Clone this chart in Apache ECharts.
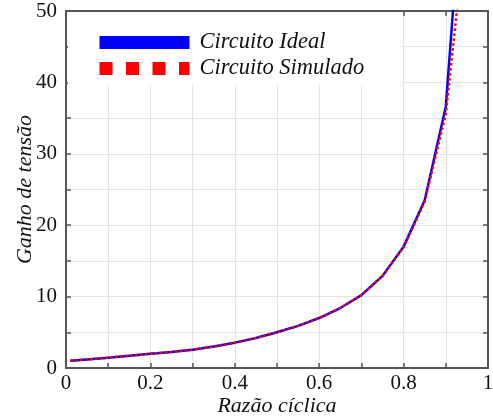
<!DOCTYPE html>
<html>
<head>
<meta charset="utf-8">
<script src="https://cdn.jsdelivr.net/npm/echarts@6/dist/echarts.min.js"></script>
<style>
  html, body {margin: 0; padding: 0; background: #fff;}
  #chart {width: 493px; height: 420px;}
</style>
</head>
<body>
<div id="chart"></div>
<script>
// razão cíclica (D) e ganho
const razaoCiclica = [0.01, 0.05, 0.1, 0.15, 0.2, 0.25, 0.3, 0.35, 0.4, 0.45, 0.5, 0.55, 0.6, 0.65, 0.7, 0.75, 0.8, 0.85, 0.9, 0.95];
const ganhoIdeal = [1.0, 1.2, 1.45, 1.7, 2.0, 2.25, 2.55, 3.0, 3.55, 4.2, 5.0, 5.9, 7.0, 8.4, 10.2, 12.9, 17.0, 23.5, 36.6, 76];
const ganhoSimulado = [1.0, 1.2, 1.45, 1.7, 2.0, 2.25, 2.55, 3.0, 3.55, 4.2, 5.0, 5.9, 7.0, 8.4, 10.2, 12.9, 16.9, 23.3, 35.6, 63];
const nomes = ['Circuito Ideal', 'Circuito Simulado'];

const fonte = "'Liberation Serif', 'Times New Roman', serif";
const corEixo = '#555';
const corGrade = '#e3e3e3';
const corTexto = '#111';

const pares = (ys) => razaoCiclica.map((x, i) => [x, ys[i]]);

const eixoBase = {
  type: 'value',
  nameMoveOverlap: false,
  axisLine: {show: true, onZero: false, lineStyle: {color: corEixo, width: 2}},
  axisTick: {show: true, inside: true, length: 5, lineStyle: {color: corEixo, width: 1.5}},
  minorTick: {show: true, splitNumber: 2, length: 5, lineStyle: {color: corEixo, width: 1.5}},
  splitLine: {show: false},
  minorSplitLine: {show: false}
};

let chart = echarts.init(document.getElementById('chart'));
chart.setOption({
  animation: false,
  grid: {left: 66, right: 5, top: 11, bottom: 52, containLabel: false, outerBoundsMode: 'none'},
  legend: {
    data: [
      {name: nomes[0], lineStyle: {width: 13, type: 'solid', cap: 'butt'}, itemStyle: {opacity: 0}},
      {name: nomes[1], lineStyle: {width: 13, type: [13, 13.5], cap: 'butt'}, itemStyle: {opacity: 0}}
    ],
    orient: 'vertical',
    left: 68,
    top: 12,
    padding: [19, 38, 5, 25],
    itemGap: 3,
    itemWidth: 90,
    itemHeight: 13,
    backgroundColor: '#fff',
    textStyle: {fontFamily: fonte, fontStyle: 'italic', fontSize: 22.5, color: corTexto, padding: [0, 0, 0, 5]}
  },
  xAxis: [
    Object.assign({}, eixoBase, {
      min: 0, max: 1, interval: 0.2,
      position: 'bottom',
      name: 'Razão cíclica',
      nameLocation: 'middle',
      nameGap: 27,
      nameTextStyle: {fontFamily: fonte, fontStyle: 'italic', fontSize: 22, color: corTexto},
      splitLine: {show: true, lineStyle: {color: corGrade, width: 1}},
      minorSplitLine: {show: true, lineStyle: {color: corGrade, width: 1}},
      axisLabel: {fontFamily: fonte, fontSize: 21, color: corTexto, margin: 5,
        formatter: (v) => String(+v.toFixed(1))}
    }),
    Object.assign({}, eixoBase, {
      min: 0, max: 1, interval: 0.2,
      position: 'top',
      axisLabel: {show: false}
    })
  ],
  yAxis: [
    Object.assign({}, eixoBase, {
      min: 0, max: 50, interval: 10,
      position: 'left',
      name: 'Ganho de tensão',
      nameLocation: 'middle',
      nameGap: 30,
      nameTextStyle: {fontFamily: fonte, fontStyle: 'italic', fontSize: 22, color: corTexto},
      splitLine: {show: true, lineStyle: {color: corGrade, width: 1}},
      minorSplitLine: {show: true, lineStyle: {color: corGrade, width: 1}},
      axisLabel: {fontFamily: fonte, fontSize: 21, color: corTexto, margin: 9}
    }),
    Object.assign({}, eixoBase, {
      min: 0, max: 50, interval: 10,
      position: 'right',
      axisLabel: {show: false}
    })
  ],
  series: [
    {
      name: nomes[0],
      type: 'line',
      data: pares(ganhoIdeal),
      showSymbol: false,
      symbol: 'none',
      clip: true,
      color: '#0000ff',
      lineStyle: {color: '#0000ff', width: 2.5},
      z: 2
    },
    {
      name: nomes[1],
      type: 'line',
      data: pares(ganhoSimulado),
      showSymbol: false,
      symbol: 'none',
      clip: true,
      color: '#ff0000',
      lineStyle: {color: '#ff0000', width: 2.5, type: [2.5, 2.5]},
      z: 3
    }
  ]
});
</script>
</body>
</html>
